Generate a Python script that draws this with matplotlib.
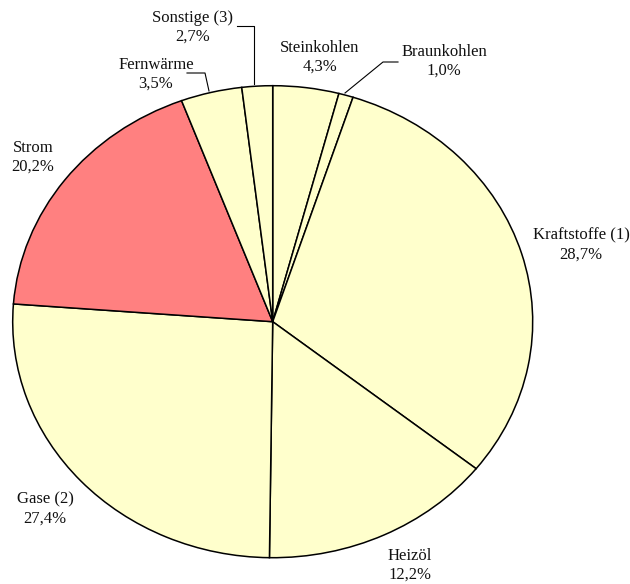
import matplotlib
matplotlib.use("Agg")
import matplotlib.pyplot as plt

# Kategorien und Beschriftungen (Prozentwerte wie im Bild angegeben)
kategorien = ["Steinkohlen", "Braunkohlen", "Kraftstoffe (1)", "Heizöl",
              "Gase (2)", "Strom", "Fernwärme", "Sonstige (3)"]
prozent_text = ["4,3%", "1,0%", "28,7%", "12,2%", "27,4%", "20,2%", "3,5%", "2,7%"]

# Segmentgroessen, wie sie im Bild gezeichnet sind
segmente = [4.1, 0.9, 30.7, 14.5, 26.0, 18.1, 3.8, 1.9]

farben = ["#FFFFCC"] * 8
farben[5] = "#FF8080"

# Bildgeometrie in Pixeln
W, H = 630, 584
CX, CY = 272.7, 321.7
RX, RY = 260.0, 236.0


def px(x, y):
    # Pixel -> Datenkoordinaten (Kreisradius 1)
    return (x - CX) / RX, (CY - y) / RY


fig = plt.figure(figsize=(W / 100, H / 100), dpi=100)
ax = fig.add_axes([0, 0, 1, 1])
ax.pie(segmente, colors=farben, startangle=90, counterclock=False,
       radius=1, center=(0, 0),
       wedgeprops=dict(edgecolor="black", linewidth=1.1))
ax.set_aspect("auto")
x0, y0 = px(0, H)
x1, y1 = px(W, 0)
ax.set_xlim(x0, x1)
ax.set_ylim(y0, y1)
ax.axis("off")

# Positionen der Beschriftungen (Pixel, Mitte des Textblocks)
label_pos = [(320, 57), (444, 61), (581, 245), (410, 565),
             (45, 509), (33, 157), (156, 74), (193, 27)]

for name, txt, (lx, ly) in zip(kategorien, prozent_text, label_pos):
    tx, ty = px(lx, ly)
    ax.text(tx, ty, name + "\n" + txt, ha="center", va="center",
            fontsize=12, family="Liberation Serif", color="#111111",
            linespacing=1.2)

# Fuehrungslinien
linien = [
    [(398, 62), (383, 62), (345, 93)],
    [(187, 73), (205, 73), (209, 91)],
    [(237, 26), (254, 26), (254, 84)],
]
for pts in linien:
    xs, ys = zip(*[px(a, b) for a, b in pts])
    ax.plot(xs, ys, color="black", linewidth=0.8)

fig.savefig("out.png", dpi=100)
